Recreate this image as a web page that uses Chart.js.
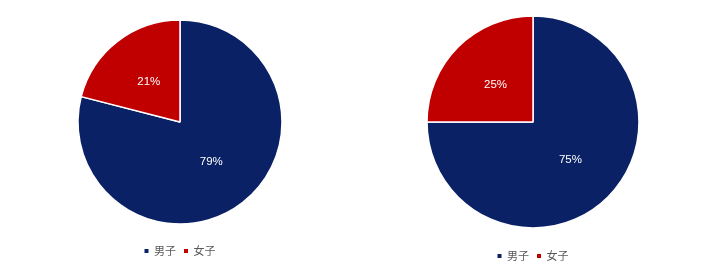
<!DOCTYPE html>
<html>
<head>
<meta charset="utf-8">
<script src="https://cdn.jsdelivr.net/npm/chart.js@4/dist/chart.umd.min.js"></script>
<style>
  html, body { margin: 0; padding: 0; background: #ffffff; overflow: hidden; width: 702px; height: 277px; }
  canvas { position: absolute; top: 0; }
  #c1 { left: 0px; }
  #c2 { left: 364px; }
</style>
</head>
<body>
<canvas id="c1" width="360" height="277"></canvas>
<canvas id="c2" width="338" height="277"></canvas>
<script>
const categories = ['男子', '女子'];
const leftValues = [79, 21];
const rightValues = [75, 25];
const seriesColors = ['#0a2265', '#c00000'];

const pctLabels = {
  id: 'pctLabels',
  afterDatasetsDraw(chart) {
    const ctx = chart.ctx;
    const meta = chart.getDatasetMeta(0);
    const data = chart.data.datasets[0].data;
    const total = data.reduce((a, b) => a + b, 0);
    ctx.save();
    ctx.font = '11.5px "Liberation Sans", Arial, sans-serif';
    ctx.fillStyle = '#ffffff';
    ctx.textAlign = 'center';
    ctx.textBaseline = 'middle';
    meta.data.forEach((arc, i) => {
      const p = arc.getProps(['x', 'y', 'startAngle', 'endAngle', 'outerRadius'], true);
      const mid = (p.startAngle + p.endAngle) / 2;
      const r = p.outerRadius * 0.5;
      const pct = Math.round(data[i] / total * 100) + '%';
      ctx.fillText(pct, p.x + Math.cos(mid) * r, p.y + Math.sin(mid) * r);
    });
    ctx.restore();
  }
};

function makePie(id, values, pad, titlePad) {
  return new Chart(document.getElementById(id), {
    type: 'pie',
    data: {
      labels: categories,
      datasets: [{
        data: values,
        backgroundColor: seriesColors,
        borderColor: '#ffffff',
        borderWidth: 1.5,
        hoverOffset: 0
      }]
    },
    options: {
      responsive: false,
      animation: false,
      layout: { padding: pad },
      plugins: {
        tooltip: { enabled: false },
        legend: {
          display: true,
          position: 'bottom',
          title: { display: true, text: '', font: { size: 2, lineHeight: 1 }, padding: { top: titlePad, bottom: 0 } },
          labels: {
            boxWidth: 4,
            boxHeight: 4,
            padding: 8,
            color: '#595959',
            font: { size: 11, family: '"Noto Sans CJK SC", "Noto Sans", sans-serif' },
            generateLabels(chart) {
              const items = Chart.overrides.pie.plugins.legend.labels.generateLabels(chart);
              items.forEach(it => { it.lineWidth = 0; it.strokeStyle = 'rgba(0,0,0,0)'; });
              return items;
            }
          }
        }
      }
    },
    plugins: [pctLabels]
  });
}

makePie('c1', leftValues, { top: 19.25, bottom: 10.5, left: 0, right: 0 }, 10.75);
makePie('c2', rightValues, { top: 15.25, bottom: 5.5, left: 0, right: 0 }, 11.75);
</script>
</body>
</html>
